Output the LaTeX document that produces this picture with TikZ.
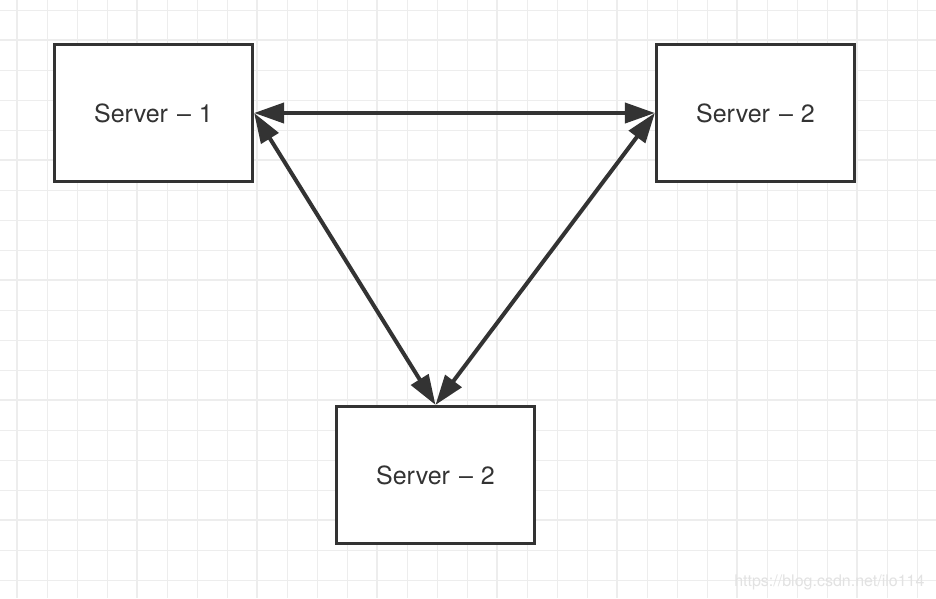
\documentclass[tikz,border=0pt]{standalone}
\usepackage{fontspec}
\setmainfont{TeX Gyre Heros}
\usetikzlibrary{arrows.meta}
\definecolor{boxgray}{HTML}{333333}
\definecolor{gridgray}{HTML}{EDEDED}
\definecolor{markgray}{HTML}{E2E2E2}
\tikzset{
  server/.style={draw=boxgray, line width=3.2pt, minimum width=198pt, minimum height=137pt,
    inner sep=0pt, text=boxgray, font=\fontsize{25}{30}\selectfont},
  link/.style={draw=boxgray, line width=4pt,
    {Triangle[length=30pt,width=20pt]}-{Triangle[length=30pt,width=20pt]}}
}

\begin{document}
\begin{tikzpicture}[x=1pt, y=-1pt]
    \useasboundingbox[fill=white] (0,0) rectangle (936,598);
    % grid
    \foreach \x in {17,47,...,917} \draw[gridgray, line width=1pt] (\x,0) -- (\x,598);
    \foreach \y in {10,40,...,580} \draw[gridgray, line width=1pt] (0,\y) -- (936,\y);
    \foreach \x in {17,137,...,857} \draw[gridgray, line width=2pt] (\x,0) -- (\x,598);
    \foreach \y in {40,160,...,520} \draw[gridgray, line width=2pt] (0,\y) -- (936,\y);

    \node[server, fill=white] (s1) at (153.5,113)  {Server\hskip 9pt--\hskip 8pt 1};
    \node[server, fill=white] (s2) at (755.5,113)  {Server\hskip 9pt--\hskip 8pt 2};
    \node[server, fill=white] (s3) at (435.5,475)  {Server\hskip 9pt--\hskip 8pt 2};

    \draw[link] (s1.east) -- (s2.west);
    \draw[link] (s1.east) -- (s3.north);
    \draw[link] (s2.west) -- (s3.north);

    \node[anchor=base east, text=markgray, font=\fontsize{16}{18}\selectfont] (mark) at (928,586) {https://blog.csdn.net/ilo114};
\end{tikzpicture}
\end{document}
